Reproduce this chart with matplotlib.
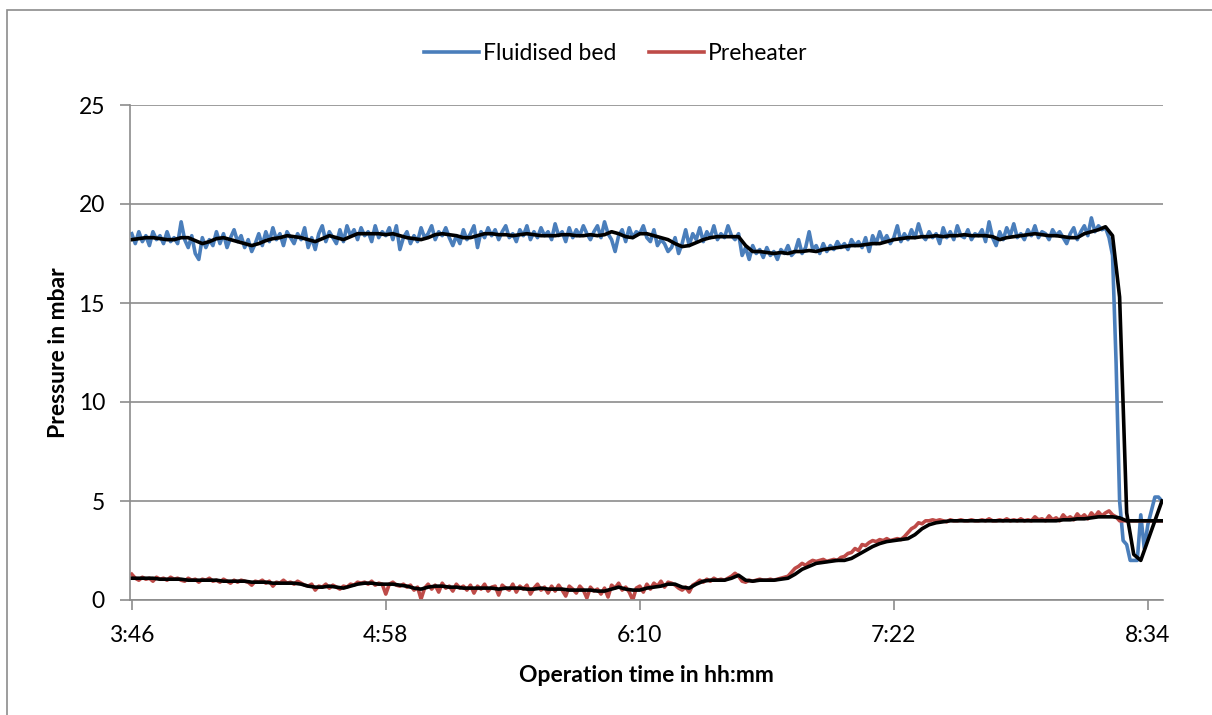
import numpy as np
import matplotlib
matplotlib.use("Agg")
import matplotlib.pyplot as plt
from matplotlib.patches import Rectangle

# minutes after 3:46, one sample per minute
bed_raw = [
    18.5, 18.0, 18.6, 18.1, 18.4, 17.9, 18.6, 18.2, 18.4, 18.0, 18.6, 18.1,
    18.3, 18.0, 19.1, 18.2, 17.8, 18.4, 17.5, 17.2, 18.3, 17.8, 18.2, 17.9,
    18.6, 18.0, 18.5, 17.8, 18.3, 18.7, 18.1, 18.4, 17.8, 18.2, 17.6, 18.0,
    18.5, 17.9, 18.6, 18.1, 18.8, 18.2, 18.5, 17.9, 18.6, 18.3, 18.0, 18.5,
    18.2, 18.8, 17.8, 18.3, 17.7, 18.5, 18.9, 18.1, 18.6, 18.3, 18.0, 18.7,
    18.1, 18.9, 18.4, 18.7, 18.2, 18.8, 18.4, 18.6, 18.1, 18.9, 18.3, 18.6,
    18.4, 18.8, 18.2, 18.9, 17.7, 18.3, 18.6, 18.0, 18.4, 18.1, 18.8, 18.3,
    18.5, 18.9, 18.2, 18.6, 18.4, 18.8, 18.3, 17.9, 18.4, 18.0, 18.7, 18.2,
    18.5, 18.9, 17.8, 18.6, 18.3, 18.8, 18.4, 18.7, 18.2, 18.6, 18.9, 18.3,
    18.5, 18.1, 18.7, 18.4, 18.9, 18.2, 18.6, 18.3, 18.8, 18.4, 18.6, 18.2,
    19.0, 18.4, 18.6, 18.1, 18.8, 18.3, 18.7, 18.4, 18.9, 18.5, 18.2, 18.6,
    18.9, 18.3, 19.1, 18.5, 18.2, 17.6, 18.4, 18.7, 18.1, 18.8, 18.3, 18.6,
    18.5, 18.9, 18.3, 18.1, 18.7, 17.9, 18.2, 18.0, 17.6, 17.8, 18.3, 17.5,
    18.0, 18.7, 17.9, 18.5, 18.2, 18.8, 18.1, 18.6, 18.3, 18.9, 18.2, 18.5,
    18.3, 18.9, 18.4, 18.2, 18.5, 17.4, 17.8, 17.2, 17.9, 17.5, 17.7, 17.3,
    17.8, 17.4, 17.6, 17.2, 17.7, 17.5, 17.9, 17.4, 17.6, 18.2, 17.5, 17.8,
    18.6, 17.7, 17.9, 17.5, 18.0, 17.6, 17.9, 17.7, 18.1, 17.8, 18.0, 17.7,
    18.2, 17.9, 18.1, 17.8, 18.3, 17.6, 18.4, 18.0, 18.6, 18.1, 18.4, 18.0,
    18.3, 18.9, 18.1, 18.5, 18.2, 18.7, 18.3, 19.0, 18.4, 18.2, 18.6, 18.3,
    18.5, 18.0, 18.8, 18.3, 18.6, 18.2, 18.9, 18.4, 18.3, 18.7, 18.2, 18.5,
    18.4, 18.7, 18.1, 19.1, 18.3, 17.9, 18.6, 18.2, 18.8, 18.4, 19.0, 18.3,
    18.5, 18.2, 18.7, 18.4, 18.9, 18.3, 18.6, 18.5, 18.2, 18.7, 18.4, 18.6,
    18.3, 18.0, 18.5, 18.8, 18.2, 18.6, 18.9, 18.4, 19.3, 18.6, 18.9, 18.7,
    18.8, 18.3, 17.4, 12.0, 5.0, 3.0, 2.8, 2.0, 2.0, 2.0, 4.3, 2.6,
    3.8, 4.5, 5.2, 5.2, 5.0,
]

pre_raw = [
    1.3, 1.1, 1.0, 1.15, 1.05, 1.1, 0.95, 1.15, 1.05, 1.1, 1.0, 1.15,
    1.05, 1.1, 1.0, 0.95, 1.1, 1.0, 1.05, 0.9, 1.05, 1.0, 1.1, 0.95,
    1.0, 0.9, 1.05, 0.95, 0.85, 1.0, 0.9, 1.0, 0.95, 0.9, 0.75, 0.95,
    0.9, 1.0, 0.85, 0.95, 0.7, 0.9, 0.85, 1.0, 0.85, 0.9, 0.8, 0.95,
    0.85, 0.75, 0.7, 0.8, 0.5, 0.7, 0.65, 0.8, 0.6, 0.75, 0.65, 0.55,
    0.7, 0.65, 0.8, 0.75, 0.9, 0.85, 0.9, 0.8, 0.95, 0.75, 0.85, 0.8,
    0.3, 0.8, 0.9, 0.75, 0.7, 0.8, 0.65, 0.75, 0.5, 0.65, 0.05, 0.6,
    0.8, 0.55, 0.75, 0.4, 0.85, 0.6, 0.7, 0.45, 0.8, 0.6, 0.7, 0.5,
    0.75, 0.35, 0.7, 0.55, 0.8, 0.45, 0.65, 0.7, 0.25, 0.75, 0.6, 0.5,
    0.8, 0.4, 0.7, 0.55, 0.75, 0.3, 0.6, 0.8, 0.5, 0.65, 0.35, 0.7,
    0.45, 0.75, 0.5, 0.2, 0.7, 0.55, 0.35, 0.7, 0.5, 0.1, 0.65, 0.45,
    0.55, 0.3, 0.6, 0.15, 0.75, 0.6, 0.85, 0.5, 0.65, 0.4, 0.0, 0.6,
    0.7, 0.4, 0.8, 0.55, 0.85, 0.7, 0.95, 0.65, 0.9, 0.85, 0.75, 0.6,
    0.5, 0.65, 0.4, 0.75, 0.85, 1.0, 0.9, 1.05, 0.95, 1.1, 1.0, 1.05,
    1.0, 1.1, 1.2, 1.35, 1.2, 0.95, 0.9, 1.0, 0.95, 1.0, 1.05, 1.0,
    1.0, 1.05, 1.0, 1.05, 1.1, 1.15, 1.2, 1.4, 1.6, 1.7, 1.85, 1.75,
    1.9, 2.0, 1.95, 2.0, 2.05, 1.95, 2.0, 2.05, 2.0, 2.15, 2.2, 2.35,
    2.4, 2.6, 2.5, 2.8, 2.75, 2.9, 3.0, 2.95, 3.05, 3.0, 3.1, 3.0,
    3.05, 3.1, 3.05, 3.2, 3.4, 3.6, 3.7, 3.9, 3.85, 4.0, 4.0, 4.05,
    4.0, 4.05, 4.0, 3.95, 4.05, 4.0, 4.0, 4.05, 4.0, 4.0, 4.05, 4.0,
    4.0, 4.05, 4.0, 4.1, 4.0, 4.0, 4.05, 4.0, 4.1, 4.0, 4.05, 4.0,
    4.1, 4.0, 4.05, 4.0, 4.2, 4.05, 4.1, 4.0, 4.25, 4.05, 4.15, 4.0,
    4.3, 4.1, 4.2, 4.05, 4.35, 4.15, 4.3, 4.1, 4.4, 4.2, 4.45, 4.25,
    4.4, 4.5, 4.3, 4.2, 4.0, 4.0, 4.0, 4.0, 4.0, 4.0, 4.0, 4.0,
    4.0, 4.0, 4.0, 4.0, 4.0,
]

# moving average trend lines (black), one value every 2 minutes
bed_trend = [
    18.2, 18.25, 18.3, 18.3, 18.25, 18.2, 18.2, 18.3, 18.3, 18.15,
    18.0, 18.1, 18.25, 18.3, 18.2, 18.1, 18.0, 17.9, 18.0, 18.15,
    18.25, 18.3, 18.4, 18.35, 18.3, 18.2, 18.1, 18.25, 18.4, 18.3,
    18.2, 18.35, 18.5, 18.5, 18.5, 18.5, 18.45, 18.5, 18.4, 18.3,
    18.25, 18.2, 18.3, 18.45, 18.5, 18.45, 18.4, 18.3, 18.3, 18.4,
    18.5, 18.5, 18.45, 18.45, 18.4, 18.45, 18.5, 18.45, 18.4, 18.4,
    18.4, 18.45, 18.45, 18.4, 18.4, 18.45, 18.4, 18.45, 18.6, 18.5,
    18.35, 18.3, 18.5, 18.5, 18.4, 18.3, 18.2, 18.0, 17.85, 17.9,
    18.05, 18.2, 18.3, 18.35, 18.35, 18.35, 18.35, 17.9, 17.6, 17.6,
    17.55, 17.5, 17.55, 17.5, 17.6, 17.6, 17.65, 17.6, 17.7, 17.75,
    17.8, 17.85, 17.9, 17.9, 17.95, 18.0, 18.0, 18.1, 18.2, 18.25,
    18.3, 18.3, 18.35, 18.35, 18.4, 18.35, 18.4, 18.4, 18.45, 18.4,
    18.4, 18.4, 18.35, 18.2, 18.3, 18.35, 18.4, 18.45, 18.5, 18.45,
    18.4, 18.4, 18.35, 18.3, 18.3, 18.5, 18.6, 18.7, 18.85, 18.4,
    15.3, 4.4, 2.3, 2.0, 3.0, 4.0, 5.0,
]

pre_trend = [
    1.1, 1.1, 1.1, 1.1, 1.05, 1.05, 1.05, 1.05, 1.0, 1.0,
    1.0, 1.0, 1.0, 0.95, 0.95, 0.95, 0.95, 0.9, 0.9, 0.9,
    0.85, 0.85, 0.85, 0.85, 0.8, 0.7, 0.65, 0.65, 0.7, 0.65,
    0.6, 0.7, 0.8, 0.85, 0.85, 0.8, 0.8, 0.8, 0.75, 0.7,
    0.6, 0.55, 0.65, 0.7, 0.7, 0.65, 0.65, 0.6, 0.6, 0.6,
    0.6, 0.6, 0.55, 0.6, 0.6, 0.6, 0.55, 0.55, 0.6, 0.55,
    0.55, 0.55, 0.5, 0.5, 0.5, 0.5, 0.45, 0.45, 0.55, 0.65,
    0.55, 0.5, 0.5, 0.6, 0.65, 0.7, 0.8, 0.8, 0.65, 0.6,
    0.8, 0.95, 1.0, 1.0, 1.0, 1.1, 1.25, 1.0, 0.95, 1.0,
    1.0, 1.0, 1.05, 1.1, 1.3, 1.55, 1.7, 1.85, 1.9, 1.95,
    2.0, 2.0, 2.1, 2.3, 2.5, 2.7, 2.85, 2.95, 3.0, 3.05,
    3.1, 3.3, 3.6, 3.8, 3.9, 3.95, 4.0, 4.0, 4.0, 4.0,
    4.0, 4.0, 4.0, 4.0, 4.0, 4.0, 4.0, 4.0, 4.0, 4.0,
    4.0, 4.0, 4.05, 4.05, 4.1, 4.1, 4.15, 4.2, 4.2, 4.2,
    4.15, 4.0, 4.0, 4.0, 4.0, 4.0, 4.0,
]

tick_minutes = [0, 72, 144, 216, 288]
tick_labels = ['3:46', '4:58', '6:10', '7:22', '8:34']

raw_t = np.arange(len(bed_raw))
trend_t = np.arange(len(bed_trend)) * 2

plt.rcParams['font.family'] = ['Lato', 'DejaVu Sans']
grey = '#8c8c8c'
fs = 16.5

fig = plt.figure(figsize=(12.12, 7.15), dpi=100)
ax = fig.add_axes([130 / 1212, 1 - 600 / 715, (1163 - 130) / 1212, 495 / 715])

ax.plot(raw_t, bed_raw, color='#4a7ebb', lw=2.6, label='Fluidised bed', solid_joinstyle='round')
ax.plot(raw_t, pre_raw, color='#be4b48', lw=2.6, label='Preheater', solid_joinstyle='round')
ax.plot(trend_t, bed_trend, color='black', lw=2.6, solid_joinstyle='round')
ax.plot(trend_t, pre_trend, color='black', lw=2.6, solid_joinstyle='round')

ax.set_xlim(-0.5, 292.3)
ax.set_ylim(0, 25)
ax.set_yticks([0, 5, 10, 15, 20, 25])
ax.set_xticks(tick_minutes)
ax.set_xticklabels(tick_labels)
ax.yaxis.grid(True, color=grey, lw=1.2)
ax.set_axisbelow(True)

for s in ['top', 'right']:
    ax.spines[s].set_visible(False)
for s in ['left', 'bottom']:
    ax.spines[s].set_color(grey)
    ax.spines[s].set_linewidth(1.2)

ax.tick_params(axis='both', colors=grey, length=7, width=1.2, labelsize=fs, labelcolor='black')
ax.tick_params(axis='y', pad=11)
ax.tick_params(axis='x', pad=11)

ax.set_ylabel('Pressure in mbar', fontsize=fs, fontweight='bold', labelpad=7)
ax.set_xlabel('Operation time in hh:mm', fontsize=fs, fontweight='bold', labelpad=14)

fig.legend(loc='center', bbox_to_anchor=(0.508, 1 - 54 / 715), ncol=2, frameon=False,
           fontsize=fs, handlelength=2.4, handletextpad=0.2, columnspacing=1.4)

# chart border
fig.patches.append(Rectangle((7 / 1212, -0.1), 1.2, 1 - 10 / 715 + 0.1, transform=fig.transFigure,
                             fill=False, edgecolor=grey, lw=1.2))

fig.savefig('out.png', dpi=100)
